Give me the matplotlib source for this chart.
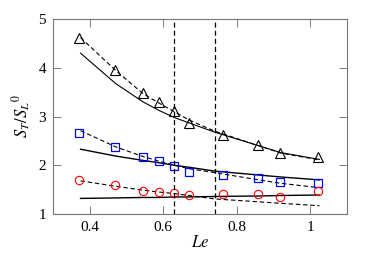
import matplotlib
matplotlib.use("Agg")
import matplotlib.pyplot as plt

plt.rcParams['font.family'] = ['Liberation Serif', 'DejaVu Serif']
plt.rcParams['mathtext.fontset'] = 'stix'

# Data
le_pts = [0.372, 0.47, 0.545, 0.588, 0.629, 0.67, 0.762, 0.858, 0.919, 1.022]
tri_pts = [4.62, 3.96, 3.48, 3.29, 3.12, 2.86, 2.63, 2.42, 2.25, 2.16]
sq_pts = [2.66, 2.37, 2.16, 2.08, 1.99, 1.87, 1.80, 1.73, 1.66, 1.63]
circ_pts = [1.70, 1.59, 1.48, 1.46, 1.44, 1.38, 1.42, 1.42, 1.35, 1.47]

le_line = [0.375, 0.47, 0.545, 0.59, 0.63, 0.67, 0.74, 0.86, 0.92, 1.025]
tri_dash = [4.62, 3.95, 3.47, 3.27, 3.10, 2.93, 2.70, 2.40, 2.25, 2.11]
tri_solid = [4.30, 3.68, 3.30, 3.12, 2.98, 2.87, 2.68, 2.40, 2.26, 2.12]
sq_dash = [2.71, 2.38, 2.18, 2.08, 2.00, 1.93, 1.85, 1.70, 1.63, 1.54]
sq_solid = [2.33, 2.19, 2.10, 2.05, 2.00, 1.96, 1.88, 1.80, 1.76, 1.70]
ci_dash = [1.68, 1.57, 1.49, 1.45, 1.42, 1.38, 1.31, 1.25, 1.22, 1.17]
ci_solid = [1.32, 1.33, 1.34, 1.34, 1.35, 1.35, 1.36, 1.37, 1.38, 1.39]

vlines = [0.63, 0.74]
xticks = [0.4, 0.6, 0.8, 1.0]
xticklabels = ['0.4', '0.6', '0.8', '1']
yticks = [1, 2, 3, 4, 5]

fig = plt.figure(figsize=(3.91, 2.61), dpi=100)
ax = fig.add_axes([0.1355, 0.180, 0.752, 0.747])

ax.plot(le_line, tri_dash, 'k--', lw=0.8, dashes=(4, 2.5))
ax.plot(le_line, tri_solid, 'k-', lw=0.8)
ax.plot(le_line, sq_dash, 'k--', lw=0.8, dashes=(4, 2.5))
ax.plot(le_line, sq_solid, 'k-', lw=1.0)
ax.plot(le_line, ci_dash, 'k--', lw=0.8, dashes=(4, 2.5))
ax.plot(le_line, ci_solid, 'k-', lw=1.0)

ax.plot(le_pts, tri_pts, ls='none', marker='^', ms=7, mfc='none', mec='black', mew=0.8)
ax.plot(le_pts, sq_pts, ls='none', marker='s', ms=5.5, mfc='none', mec='blue', mew=0.9)
ax.plot(le_pts, circ_pts, ls='none', marker='o', ms=6, mfc='none', mec='red', mew=0.8)

for v in vlines:
    ax.axvline(v, color='black', lw=0.9, ls='--', dashes=(4, 2.5))

ax.set_xlim(0.3, 1.1)
ax.set_ylim(1, 5)
ax.set_xticks(xticks)
ax.set_xticklabels(xticklabels)
ax.set_yticks(yticks)
ax.tick_params(direction='in', length=6, width=0.6, color='#666666',
               top=True, right=True, labelsize=11, pad=5)
for s in ax.spines.values():
    s.set_color('#777777')
    s.set_linewidth(0.8)

ax.set_xlabel(r'$Le$', fontsize=12, labelpad=1)
ax.set_ylabel(r'$S_T/S_L{}^0$', fontsize=12, labelpad=4)

fig.savefig('out.png', dpi=100)
